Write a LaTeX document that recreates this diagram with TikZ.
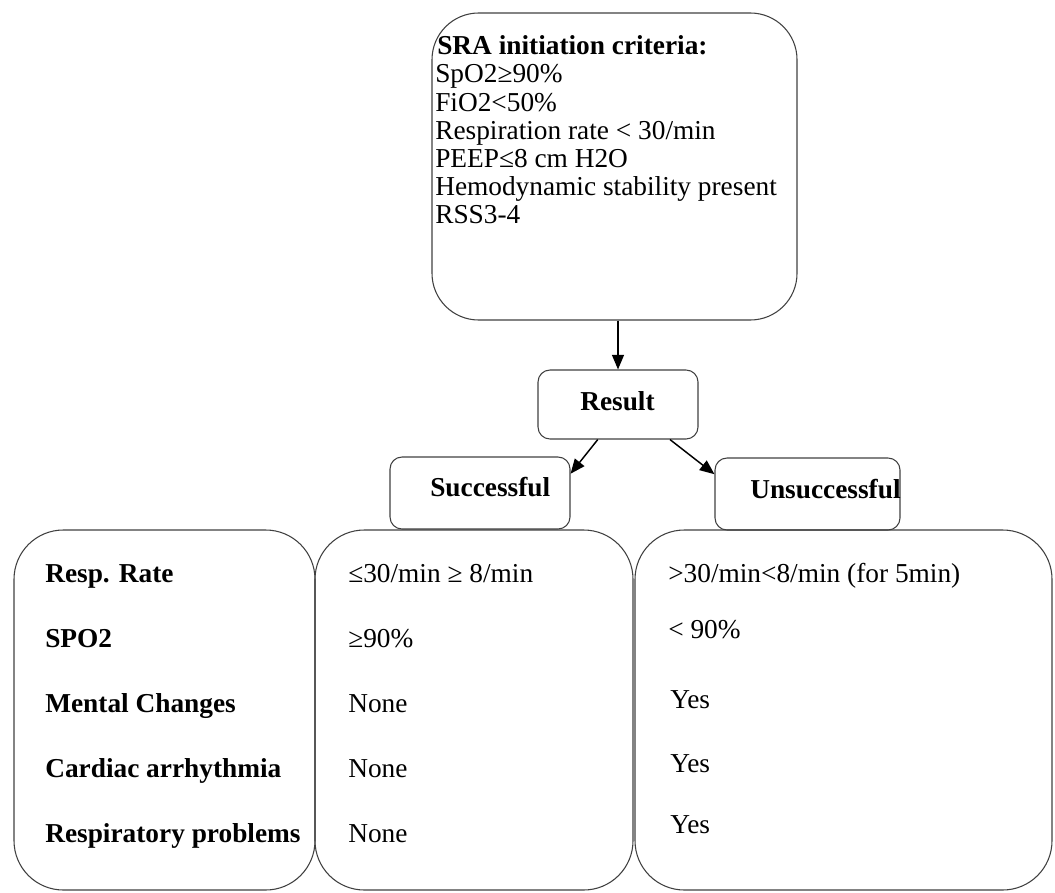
\documentclass[tikz,border=0pt]{standalone}
\usepackage{fontspec}
\setmainfont{Liberation Serif}
\usetikzlibrary{arrows.meta,positioning,shapes}

\begin{document}
\begin{tikzpicture}[x=0.75pt,y=-0.75pt,
  roundbox/.style={draw=black!75,line width=0.8pt,inner sep=0pt},
  txt/.style={anchor=base west,inner sep=0pt,font=\fontsize{20.5}{22}\selectfont},
  hd/.style={txt,font=\fontsize{20.5}{22}\selectfont\bfseries},
  arr/.style={-{Triangle[length=11pt,width=9pt]},line width=1.1pt}]
\useasboundingbox (0,0) rectangle (1055,892);
% boxes
\node[roundbox,rounded corners=35pt,minimum width=273.75pt,minimum height=230.25pt] (crit) at (614.5,166.5) {};
\node[roundbox,rounded corners=9pt,minimum width=120pt,minimum height=51.75pt] (res) at (618,404.5) {};
\node[roundbox,rounded corners=9pt,minimum width=135pt,minimum height=54pt] (succ) at (480,493) {};
\node[roundbox,rounded corners=9pt,minimum width=138.75pt,minimum height=54pt] (unsucc) at (807.5,494) {};
\node[roundbox,rounded corners=37pt,minimum width=225.75pt,minimum height=270pt] (param) at (164.5,710) {};
\node[roundbox,rounded corners=37pt,minimum width=238.5pt,minimum height=270pt] (okcol) at (474,710) {};
\node[roundbox,rounded corners=37pt,minimum width=312.75pt,minimum height=270pt] (failcol) at (843.5,710) {};
% criteria
\node[hd] (c0) at (437,55) {SRA initiation criteria:};
\node[txt] (c1) at (435,83) {SpO2≥90\%};
\node[txt] (c2) at (435,111) {FiO2<50\%};
\node[txt] (c3) at (435,139) {Respiration rate < 30/min};
\node[txt] (c4) at (435,167) {PEEP≤8 cm H2O};
\node[txt] (c5) at (435,195) {Hemodynamic stability present};
\node[txt] (c6) at (435,223) {RSS3-4};
% headings
\node[hd] (restxt) at (580,410) {Result};
\node[hd] (succtxt) at (430,496) {Successful};
\node[hd] (unsucctxt) at (750,498) {Unsuccessful};
% parameters
\node[hd] (p1) at (45,582) {Resp. Rate};
\node[hd] (p2) at (45,647) {SPO2};
\node[hd] (p3) at (45,712) {Mental Changes};
\node[hd] (p4) at (45,777) {Cardiac arrhythmia};
\node[hd] (p5) at (45,842) {Respiratory problems};
% successful values
\node[txt] (s1) at (348,582) {≤30/min ≥ 8/min};
\node[txt] (s2) at (348,647) {≥90\%};
\node[txt] (s3) at (348,712) {None};
\node[txt] (s4) at (348,777) {None};
\node[txt] (s5) at (348,842) {None};
% unsuccessful values
\node[txt] (u1) at (668,582) {>30/min<8/min (for 5min)};
\node[txt] (u2) at (668,638) {< 90\%};
\node[txt] (u3) at (670,708) {Yes};
\node[txt] (u4) at (670,772) {Yes};
\node[txt] (u5) at (670,833) {Yes};
% arrows
\draw[arr] (res.north |- crit.south) -- (res.north);
\draw[arr] (res.240) -- (succ.12);
\draw[arr] (res.326) -- (unsucc.168);
\end{tikzpicture}
\end{document}
